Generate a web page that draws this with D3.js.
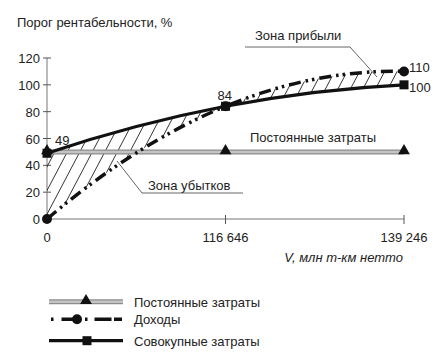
<!DOCTYPE html>
<html><head><meta charset="utf-8">
<script src="https://cdn.jsdelivr.net/npm/d3@7"></script>
<style>
html,body{margin:0;padding:0;background:#fff;}
svg{display:block;font-family:"Liberation Sans",Arial,sans-serif;}
</style></head>
<body><svg id="c" width="448" height="361"></svg>
<script>
const xLabels = ["0", "116 646", "139 246"];
const fixedCosts = [50, 50, 50];
const revenue = [0, 84, 110];
const totalCosts = [49, 84, 100];
const yTicks = [0, 20, 40, 60, 80, 100, 120];
const valueLabels = [
  {series: "total", i: 0, text: "49"},
  {series: "total", i: 1, text: "84"},
  {series: "revenue", i: 2, text: "110"},
  {series: "total", i: 2, text: "100"}
];
const yTitle = "Порог рентабельности, %";
const xTitle = "V, млн т-км нетто";
const legendNames = ["Постоянные затраты", "Доходы", "Совокупные затраты"];

// smooth curve: Hermite spline with parabola-consistent tangents
class ParabolicCurve {
  constructor(ctx) { this._context = ctx; }
  areaStart() { this._line = 0; }
  areaEnd() { this._line = NaN; }
  lineStart() { this._x = []; this._y = []; }
  point(x, y) { this._x.push(+x); this._y.push(+y); }
  lineEnd() {
    const X = this._x, Y = this._y, n = X.length, c = this._context;
    if (n) {
      this._line ? c.lineTo(X[0], Y[0]) : c.moveTo(X[0], Y[0]);
      if (n === 2) c.lineTo(X[1], Y[1]);
      else if (n > 2) {
        const s = [], m = [];
        for (let i = 0; i < n - 1; i++) s[i] = (Y[i + 1] - Y[i]) / (X[i + 1] - X[i]);
        m[0] = (3 * s[0] - s[1]) / 2;
        for (let i = 1; i < n - 1; i++) m[i] = (s[i - 1] + s[i]) / 2;
        m[n - 1] = (3 * s[n - 2] - s[n - 3]) / 2;
        for (let i = 0; i < n - 1; i++) {
          const dx = (X[i + 1] - X[i]) / 3;
          c.bezierCurveTo(X[i] + dx, Y[i] + dx * m[i], X[i + 1] - dx, Y[i + 1] - dx * m[i + 1], X[i + 1], Y[i + 1]);
        }
      }
    }
    if (this._line || (this._line !== 0 && n === 1)) c.closePath();
    this._line = 1 - this._line;
  }
}
const curve = ctx => new ParabolicCurve(ctx);

const svg = d3.select("#c");
const x = d3.scalePoint().domain(d3.range(xLabels.length)).range([47, 404]);
const y = d3.scaleLinear().domain([0, 120]).range([219, 58]);

// axes
const axisColor = "#777";
svg.append("line").attr("x1", x(0)).attr("x2", x(0)).attr("y1", y(120)).attr("y2", y(0))
  .attr("stroke", axisColor).attr("stroke-width", 1);
svg.append("line").attr("x1", x(0)).attr("x2", x(2)).attr("y1", y(0)).attr("y2", y(0))
  .attr("stroke", axisColor).attr("stroke-width", 1);
yTicks.forEach(t => {
  svg.append("line").attr("x1", x(0) - 4).attr("x2", x(0) + 4).attr("y1", y(t)).attr("y2", y(t))
    .attr("stroke", "#555").attr("stroke-width", 1);
  svg.append("text").attr("x", x(0) - 7).attr("y", y(t) + 5).attr("text-anchor", "end")
    .attr("font-size", 13).attr("fill", "#222").text(t);
});
xLabels.forEach((l, i) => {
  if (i > 0) svg.append("line").attr("x1", x(i)).attr("x2", x(i)).attr("y1", y(0) - 4).attr("y2", y(0) + 5)
    .attr("stroke", "#555").attr("stroke-width", 1);
  svg.append("text").attr("x", x(i)).attr("y", 242).attr("text-anchor", "middle")
    .attr("font-size", 13).attr("fill", "#222").text(l);
});
svg.append("text").attr("x", 17).attr("y", 27).attr("font-size", 13).attr("fill", "#222").text(yTitle);
svg.append("text").attr("x", 403).attr("y", 262).attr("text-anchor", "end")
  .attr("font-size", 13).attr("font-style", "italic").attr("fill", "#222").text(xTitle);

// hatched area between revenue and total costs (clip + diagonal lines)
const area = d3.area().x((d, i) => x(i)).y0((d, i) => y(totalCosts[i])).y1((d, i) => y(revenue[i])).curve(curve);
svg.append("defs").append("clipPath").attr("id", "zone").append("path").attr("d", area(xLabels));
const hatch = svg.append("g").attr("clip-path", "url(#zone)");
const hStep = 12.5, hSlope = 1.9;
const hTop = y(120), hBot = y(0);
for (let hx = x(0) - 90; hx < x(2) + 10; hx += hStep) {
  hatch.append("line").attr("x1", hx).attr("y1", hBot).attr("x2", hx + (hBot - hTop) / hSlope).attr("y2", hTop)
    .attr("stroke", "#111").attr("stroke-width", 0.85);
}

const line = d3.line().x((d, i) => x(i)).y(d => y(d)).curve(curve);

// fixed costs
svg.append("path").attr("d", line(fixedCosts)).attr("fill", "none").attr("stroke", "#8c8c8c").attr("stroke-width", 5);
svg.append("path").attr("d", line(fixedCosts)).attr("fill", "none").attr("stroke", "#c4c4c4").attr("stroke-width", 2.5);
const tri = d3.symbol().type(d3.symbolTriangle).size(60);
fixedCosts.forEach((v, i) => svg.append("path").attr("d", tri()).attr("transform", `translate(${x(i)},${y(v) - 1})`).attr("fill", "#111"));

// revenue
const revDash = "12,5,2.5,4,2.5,5";
svg.append("path").attr("d", line(revenue)).attr("fill", "none").attr("stroke", "#111")
  .attr("stroke-width", 3.5).attr("stroke-dasharray", revDash);
revenue.forEach((v, i) => svg.append("circle").attr("cx", x(i)).attr("cy", y(v)).attr("r", 5).attr("fill", "#111"));

// total costs
svg.append("path").attr("d", line(totalCosts)).attr("fill", "none").attr("stroke", "#111").attr("stroke-width", 3.2);
totalCosts.forEach((v, i) => svg.append("rect").attr("x", x(i) - 4.5).attr("y", y(v) - 4.5).attr("width", 9).attr("height", 9).attr("fill", "#111"));

// value labels
const offs = [[8, -8], [-8, -6], [5, 1], [5, 7]];
valueLabels.forEach((d, k) => {
  const v = d.series === "total" ? totalCosts[d.i] : revenue[d.i];
  svg.append("text").attr("x", x(d.i) + offs[k][0]).attr("y", y(v) + offs[k][1])
    .attr("font-size", 13).attr("fill", "#222").text(d.text);
});

// annotations
svg.append("text").attr("x", 313).attr("y", 142).attr("text-anchor", "middle").attr("font-size", 13).attr("fill", "#222").text("Постоянные затраты");
svg.append("text").attr("x", 255).attr("y", 40).attr("font-size", 13).attr("fill", "#222").text("Зона прибыли");
svg.append("polyline").attr("points", "245,47 350,47 377,77").attr("fill", "none").attr("stroke", "#555").attr("stroke-width", 0.9);
svg.append("text").attr("x", 148).attr("y", 190).attr("font-size", 13).attr("fill", "#222").text("Зона убытков");
svg.append("polyline").attr("points", "243,193 142,193 117,161").attr("fill", "none").attr("stroke", "#555").attr("stroke-width", 0.9);

// legend
const lg = svg.append("g");
const rows = [301.7, 319.3, 340.7];
const lx0 = 49, lx1 = 123, lmx = 87;
lg.append("line").attr("x1", lx0).attr("x2", lx1).attr("y1", rows[0]).attr("y2", rows[0]).attr("stroke", "#8c8c8c").attr("stroke-width", 5);
lg.append("line").attr("x1", lx0).attr("x2", lx1).attr("y1", rows[0]).attr("y2", rows[0]).attr("stroke", "#c4c4c4").attr("stroke-width", 2.5);
lg.append("path").attr("d", tri()).attr("transform", `translate(${lmx - 1},${rows[0] - 1})`).attr("fill", "#111");
lg.append("line").attr("x1", lx0 + 2).attr("x2", lx1).attr("y1", rows[1]).attr("y2", rows[1]).attr("stroke", "#111").attr("stroke-width", 3.5).attr("stroke-dasharray", "2.5,8,12,5,2.5,4,2.5,7,17");
lg.append("circle").attr("cx", 77).attr("cy", rows[1]).attr("r", 5).attr("fill", "#111");
lg.append("line").attr("x1", lx0).attr("x2", lx1).attr("y1", rows[2]).attr("y2", rows[2]).attr("stroke", "#111").attr("stroke-width", 3.2);
lg.append("rect").attr("x", lmx - 4.5).attr("y", rows[2] - 4.5).attr("width", 9).attr("height", 9).attr("fill", "#111");
legendNames.forEach((n, i) => lg.append("text").attr("x", 134).attr("y", rows[i] + 5).attr("font-size", 13).attr("fill", "#222").text(n));
</script></body></html>
